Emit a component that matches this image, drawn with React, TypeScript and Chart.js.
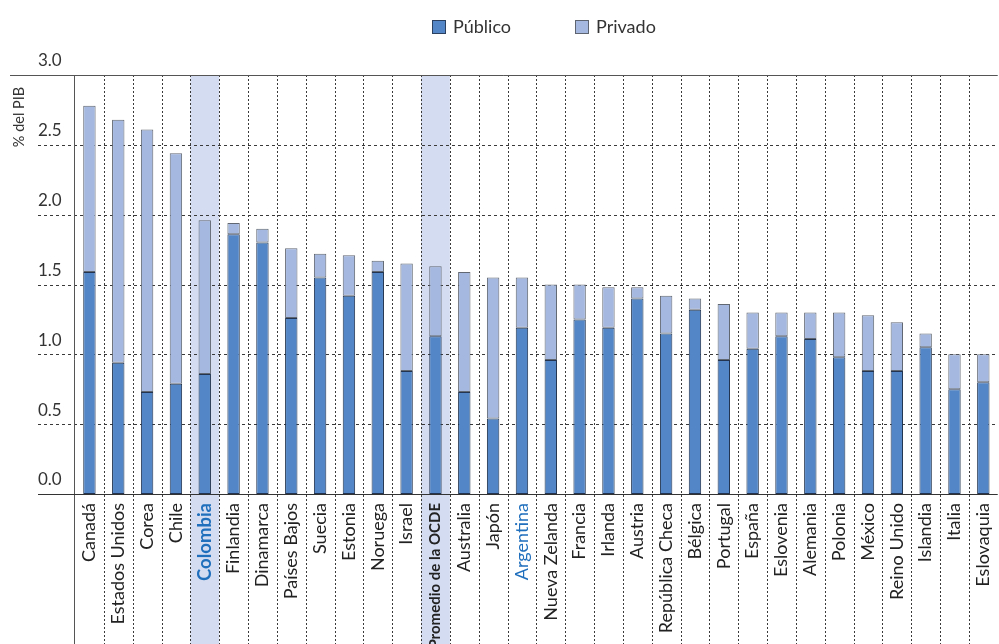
import React, { useEffect, useRef } from "react";
import { Chart, registerables } from "chart.js";

Chart.register(...registerables);

const categories: string[] = [
  "Canadá", "Estados Unidos", "Corea", "Chile", "Colombia", "Finlandia", "Dinamarca",
  "Países Bajos", "Suecia", "Estonia", "Noruega", "Israel", "Promedio de la OCDE",
  "Australia", "Japón", "Argentina", "Nueva Zelanda", "Francia", "Irlanda", "Austria",
  "República Checa", "Bélgica", "Portugal", "España", "Eslovenia", "Alemania", "Polonia",
  "México", "Reino Unido", "Islandia", "Italia", "Eslovaquia",
];

const publico: number[] = [
  1.59, 0.94, 0.73, 0.79, 0.86, 1.86, 1.80, 1.26, 1.55, 1.42, 1.59, 0.88, 1.13,
  0.73, 0.54, 1.19, 0.96, 1.25, 1.19, 1.40, 1.15, 1.32, 0.96, 1.04, 1.13, 1.11,
  0.98, 0.88, 0.88, 1.05, 0.75, 0.80,
];

const privado: number[] = [
  1.19, 1.74, 1.88, 1.65, 1.10, 0.08, 0.10, 0.50, 0.17, 0.29, 0.08, 0.77, 0.50,
  0.86, 1.01, 0.36, 0.54, 0.25, 0.29, 0.08, 0.27, 0.08, 0.40, 0.26, 0.17, 0.19,
  0.32, 0.40, 0.35, 0.10, 0.25, 0.20,
];

const yTicks: number[] = [0, 0.5, 1.0, 1.5, 2.0, 2.5, 3.0];
const highlighted: string[] = ["Colombia", "Promedio de la OCDE"];
const seriesNames: string[] = ["Público", "Privado"];

const FONT = "Lato";
const C_PUB = "#5286c6";
const C_PRI = "#a5b9e0";
const C_BAND = "#d3dcf0";
const C_TEXT = "#333333";

const decor = {
  id: "decor",
  beforeDraw(chart: any) {
    const { ctx, chartArea, scales } = chart;
    const x = scales.x;
    const w = (chartArea.right - chartArea.left) / categories.length;
    ctx.save();
    ctx.fillStyle = C_BAND;
    highlighted.forEach((h) => {
      const i = categories.indexOf(h);
      const cx = x.getPixelForValue(i);
      ctx.fillRect(cx - w / 2, chartArea.top, w, chart.height - chartArea.top);
    });
    ctx.restore();
  },
  beforeDatasetsDraw(chart: any) {
    const { ctx, chartArea, scales } = chart;
    const x = scales.x;
    const y = scales.y;
    const w = (chartArea.right - chartArea.left) / categories.length;
    ctx.save();
    ctx.lineWidth = 1;
    ctx.strokeStyle = "#3a3a3a";
    ctx.setLineDash([3, 3]);
    yTicks.forEach((v) => {
      if (v === 0 || v === 3) return;
      const py = Math.round(y.getPixelForValue(v)) + 0.5;
      ctx.beginPath();
      ctx.moveTo(38, py);
      ctx.lineTo(chartArea.right, py);
      ctx.stroke();
    });
    ctx.setLineDash([2, 2]);
    for (let i = 1; i < categories.length; i++) {
      const px = Math.round(x.getPixelForValue(i) - w / 2) + 0.5;
      ctx.beginPath();
      ctx.moveTo(px, chartArea.top);
      ctx.lineTo(px, chart.height);
      ctx.stroke();
    }
    ctx.setLineDash([]);
    ctx.strokeStyle = "#555";
    const ty = Math.round(y.getPixelForValue(3)) + 0.5;
    ctx.beginPath();
    ctx.moveTo(10, ty);
    ctx.lineTo(chartArea.right, ty);
    ctx.stroke();
    const lx = Math.round(chartArea.left) - 0.5;
    ctx.beginPath();
    ctx.moveTo(lx, ty);
    ctx.lineTo(lx, chart.height);
    ctx.stroke();
    ctx.restore();
  },
  afterDatasetsDraw(chart: any) {
    const { ctx, chartArea, scales } = chart;
    const y = scales.y;
    ctx.save();
    ctx.strokeStyle = "#333";
    ctx.lineWidth = 1;
    const by = Math.round(y.getPixelForValue(0)) + 0.5;
    ctx.beginPath();
    ctx.moveTo(38, by);
    ctx.lineTo(chartArea.right, by);
    ctx.stroke();
    ctx.restore();
  },
  afterDraw(chart: any) {
    const { ctx } = chart;
    ctx.save();
    const items = [
      { x: 432, color: C_PUB, border: "#2b3f5e", label: seriesNames[0] },
      { x: 575, color: C_PRI, border: "#5f6570", label: seriesNames[1] },
    ];
    ctx.font = `18px ${FONT}`;
    ctx.textBaseline = "middle";
    ctx.textAlign = "left";
    items.forEach((it) => {
      ctx.fillStyle = it.color;
      ctx.fillRect(it.x, 20.5, 13, 13);
      ctx.strokeStyle = it.border;
      ctx.lineWidth = 1;
      ctx.strokeRect(it.x + 0.5, 20.5, 13, 13);
      ctx.fillStyle = C_TEXT;
      ctx.fillText(it.label, it.x + 21, 27);
    });
    ctx.translate(19, 117);
    ctx.rotate(-Math.PI / 2);
    ctx.textAlign = "center";
    ctx.font = `14.5px ${FONT}`;
    ctx.fillStyle = C_TEXT;
    ctx.fillText("% del PIB", 0, 0);
    ctx.restore();
  },
};

export default function App() {
  const ref = useRef<HTMLCanvasElement | null>(null);
  useEffect(() => {
    if (!ref.current) return;
    const chart = new Chart(ref.current, {
      type: "bar",
      data: {
        labels: categories,
        datasets: [
          {
            label: seriesNames[0],
            data: publico,
            backgroundColor: C_PUB,
            borderColor: "#22344f",
            borderWidth: 1,
            borderSkipped: false,
            categoryPercentage: 1,
            barPercentage: 0.43,
          },
          {
            label: seriesNames[1],
            data: privado,
            backgroundColor: C_PRI,
            borderColor: "#626872",
            borderWidth: 1,
            borderSkipped: false,
            categoryPercentage: 1,
            barPercentage: 0.43,
          },
        ],
      },
      options: {
        responsive: false,
        animation: false,
        devicePixelRatio: 1,
        layout: { padding: { left: 38, top: 75, right: 5, bottom: 0 } },
        plugins: {
          legend: { display: false },
          tooltip: { enabled: false },
          title: { display: false },
        },
        scales: {
          x: {
            stacked: true,
            grid: { display: false, drawTicks: false },
            border: { display: false },
            ticks: {
              autoSkip: false,
              maxRotation: 90,
              minRotation: 90,
              padding: 9,
              color: (ctx: any) => {
                const l = categories[ctx.index];
                if (l === "Colombia" || l === "Argentina") return "#1f6fbd";
                return "#222";
              },
              font: (ctx: any) => {
                const l = categories[ctx.index];
                if (l === "Colombia") return { family: FONT, size: 18.5, weight: "bold" };
                if (l === "Promedio de la OCDE") return { family: FONT, size: 15, weight: "bold" };
                return { family: FONT, size: 18 };
              },
            },
            afterFit: (s: any) => {
              s.height = 150;
            },
          },
          y: {
            stacked: true,
            min: 0,
            max: 3,
            grid: { display: false, drawTicks: false },
            border: { display: false },
            ticks: {
              stepSize: 0.5,
              crossAlign: "far",
              labelOffset: -14,
              color: C_TEXT,
              font: { family: FONT, size: 17 },
              callback: (v: any) => Number(v).toFixed(1),
            },
            afterFit: (s: any) => {
              s.width = 37;
            },
          },
        },
      },
      plugins: [decor],
    });
    return () => chart.destroy();
  }, []);
  return (
    <div
      style={{
        position: "fixed",
        left: 0,
        top: 0,
        width: 999,
        height: 644,
        overflow: "hidden",
        background: "#fff",
      }}
    >
      <canvas ref={ref} width={1014} height={644} style={{ width: 1014, height: 644, display: "block" }} />
    </div>
  );
}
